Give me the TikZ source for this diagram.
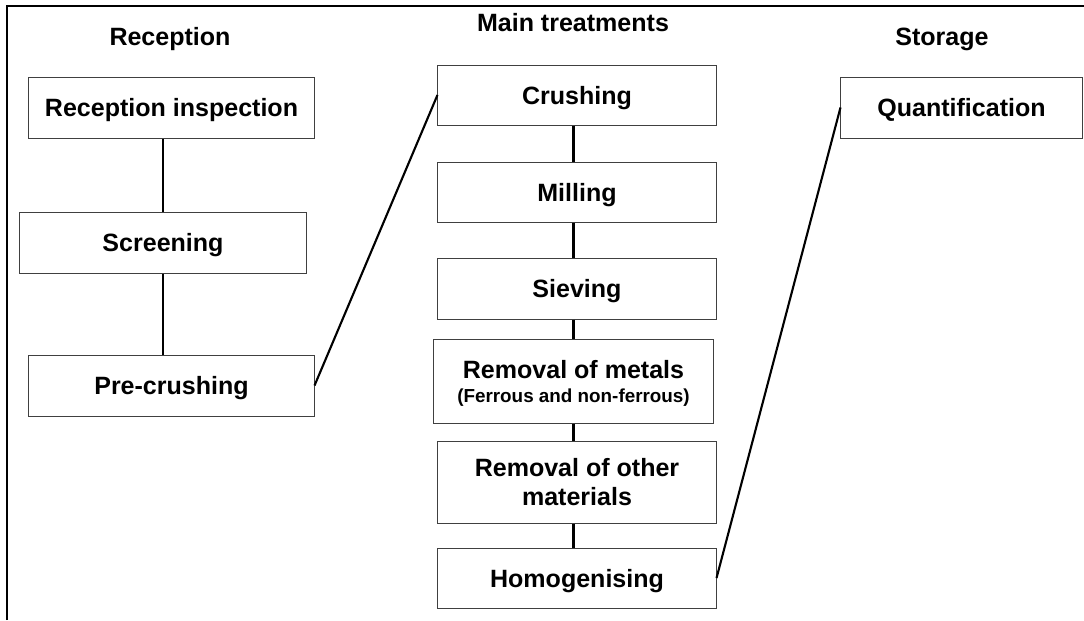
\documentclass[tikz,border=0pt]{standalone}
\usepackage{fontspec}
\setmainfont{Liberation Sans}
\usepackage{tikz}
\usetikzlibrary{positioning}

\newcommand{\boxfont}{\fontsize{17.8}{20.6}\selectfont\bfseries}
\newcommand{\notefont}{\fontsize{13.4}{16}\selectfont\bfseries}

\tikzset{
  stepbox/.style={draw=black!75, line width=0.7pt, fill=white, inner sep=0pt,
    align=center, font=\boxfont, text depth=0pt},
  heading/.style={anchor=base, font=\boxfont},
  link/.style={line width=1.5pt, black},
  frame/.style={line width=2pt, black}
}

\begin{document}
\begin{tikzpicture}[x=0.025cm, y=-0.025cm]

    % page size
    \useasboundingbox (0,0) rectangle (1084,620);

    % frame (top and left only)
    \draw[frame] (7,620) -- (7,6) -- (1084,6);

    % Column headings
    \node[heading] (hrec) at (170,45) {Reception};
    \node[heading] (hmain) at (573,31) {Main treatments};
    \node[heading] (hsto) at (942,45) {Storage};

    % Reception column
    \node[stepbox, minimum width=7.125cm, minimum height=1.525cm] (insp) at (171.5,107.5) {Reception inspection};
    \node[stepbox, minimum width=7.15cm, minimum height=1.525cm] (scr) at (163,242.5) {Screening};
    \node[stepbox, minimum width=7.125cm, minimum height=1.525cm] (pre) at (171.5,385.5) {Pre-crushing};

    % Main treatments column
    \node[stepbox, minimum width=6.95cm, minimum height=1.5cm] (crush) at (577,95) {Crushing};
    \node[stepbox, minimum width=6.95cm, minimum height=1.5cm] (mill) at (577,192) {Milling};
    \node[stepbox, minimum width=6.95cm, minimum height=1.525cm] (sieve) at (577,288.5) {Sieving};
    \node[stepbox, minimum width=6.975cm, minimum height=2.1cm] (metal) at (573.5,381)
        {Removal of metals\\[-3.5pt]{\notefont (Ferrous and non-ferrous)}};
    \node[stepbox, minimum width=6.95cm, minimum height=2.05cm] (other) at (577,482)
        {Removal of other\\materials};
    \node[stepbox, minimum width=6.95cm, minimum height=1.5cm] (homog) at (577,578) {Homogenising};

    % Storage column
    \node[stepbox, minimum width=6.025cm, minimum height=1.525cm] (quant) at (961.5,107.5) {Quantification};

    % vertical links
    \draw[link] (scr.north) -- (scr.north |- insp.south);
    \draw[link] (scr.south) -- (scr.south |- pre.north);
    \draw[link] (metal.north |- crush.south) -- (metal.north |- mill.north);
    \draw[link] (metal.north |- mill.south) -- (metal.north |- sieve.north);
    \draw[link] (metal.north |- sieve.south) -- (metal.north);
    \draw[link] (metal.south) -- (metal.south |- other.north);
    \draw[link] (metal.south |- other.south) -- (metal.south |- homog.north);

    % links between columns
    \draw[link] (pre.east) -- (crush.west);
    \draw[link] (homog.east) -- (quant.west);

\end{tikzpicture}
\end{document}
